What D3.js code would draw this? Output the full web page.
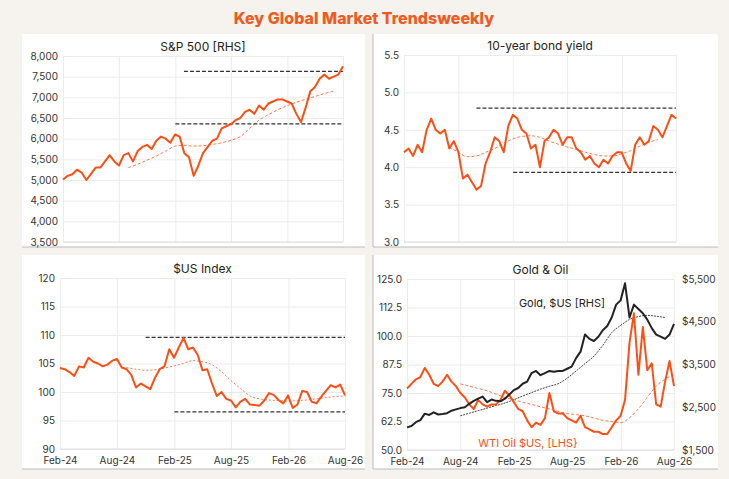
<!DOCTYPE html>
<html lang="en">
<head>
<meta charset="UTF-8">
<script src="https://d3js.org/d3.v7.min.js"></script>
<style>
  body { margin: 0; background: #f6f2ee; }
  text { font-family: Inter, "Open Sans", sans-serif; fill: #222; }
  .grid line { stroke: #ececec; }
  .tick text { font-size: 10px; fill: #333; }
</style>
</head>
<body>
<svg width="729" height="479"></svg>
<script>
// semi-monthly observations, Feb-24 .. Aug-26
var spx = [5010,5100,5140,5250,5180,5000,5150,5300,5300,5450,5600,5450,5350,5600,5650,5450,5700,5800,5850,5750,5950,6050,6000,5900,6100,6050,5650,5550,5100,5350,5650,5800,5950,6000,6250,6300,6350,6450,6500,6650,6700,6600,6800,6700,6850,6900,6950,6950,6900,6850,6600,6400,6750,7150,7250,7450,7550,7450,7500,7550,7750];
var spxTrend = [5300,5380,5480,5580,5700,5820,5840,5820,5830,5860,5900,5960,6050,6250,6450,6580,6700,6800,6880,6950,7020,7090,7150];   // monthly from Sep-24
var bond = [4.2,4.25,4.15,4.3,4.2,4.5,4.65,4.5,4.45,4.5,4.25,4.35,4.2,3.85,3.9,3.8,3.7,3.75,4.05,4.2,4.4,4.35,4.2,4.55,4.7,4.65,4.5,4.45,4.25,4.3,4.0,4.35,4.4,4.5,4.45,4.3,4.4,4.4,4.25,4.2,4.1,4.15,4.05,4.0,4.1,4.05,4.15,4.2,4.2,4.05,3.95,4.3,4.4,4.3,4.35,4.55,4.5,4.4,4.55,4.7,4.65];
var bondTrend = [4.27,4.2,4.14,4.15,4.2,4.25,4.32,4.38,4.41,4.42,4.4,4.35,4.31,4.27,4.24,4.2,4.17,4.15,4.15,4.18,4.22,4.28,4.33,4.37]; // monthly from Jul-24
var usd = [104.2,104,103.5,102.8,104.5,104.3,106,105.3,105,104.5,104.8,105.5,105.8,104.3,104,103,100.8,101.5,101,100.5,102.5,104,104.5,107.5,106,107.8,109.5,107.5,107.8,106.5,103.8,104,101.5,99.3,100,98.8,98.5,97.3,98.3,98.8,97.8,97.7,97.6,98.5,99.8,99.5,98.6,98,99.4,97.2,97.8,100.2,100,98.3,98,99.2,100.2,101.2,100.8,101.3,99.4];
var usdTrend = [104.3,104,103.8,103.9,104.2,104.6,105,105.5,105.3,104.8,103.6,102,100.6,99.3,98.8,98.6,98.5,98.4,98.5,98.6,98.8,99,99.2,99.3]; // monthly from Sep-24
var gold = [2030,2060,2150,2200,2350,2320,2380,2330,2340,2360,2420,2450,2480,2500,2580,2650,2700,2750,2620,2680,2650,2640,2700,2800,2900,2950,3050,3100,3300,3350,3250,3300,3350,3330,3350,3350,3400,3450,3650,3800,4200,4100,4050,4150,4300,4400,4600,4900,5000,5400,4600,4900,4800,4700,4550,4350,4200,4150,4100,4200,4450];
var goldTrend = [2300,2360,2420,2480,2540,2600,2680,2760,2840,2920,2990,3050,3180,3350,3520,3700,3950,4250,4420,4550,4620,4650,4630,4600]; // monthly from Aug-24
var oil = [77,79,81,82,86,83,79,78,80,83,80,78,75,73,70,68,72,70,69,70,70,72,76,74,71,68,67,63,60,62,61,64,75,67,66,66,64,63,62,65,60,59,58,58,57,57,60,63,65,72,97,110,83,104,85,88,70,69,80,89,78];
var oilTrend = [79,78,77,76,74.5,73,72,71,70,69,68,67,66,65.5,65,64,63,62.5,62,64,68,73,78,81,83]; // monthly from Aug-24
var xTicks = ["Feb-24","Aug-24","Feb-25","Aug-25","Feb-26","Aug-26"];

var svg = d3.select("svg");
var parse = d3.timeParse("%b-%y");
var t0 = parse("Feb-24"), t1 = parse("Aug-26");
function dates(n) { return d3.range(n).map(function(i){ return new Date(+t0 + i*(t1 - t0)/(n-1)); }); }
function monthly(start, n) { var s = parse(start); return d3.range(n).map(function(i){ return d3.timeMonth.offset(s, i); }); }

svg.append("text").attr("x", 364).attr("y", 24).attr("text-anchor", "middle")
  .style("font-size", "16px").style("font-weight", 800).style("fill", "#f05a1e")
  .text("Key Global Market Trendsweekly");

function panel(o) {
  svg.append("rect").attr("x", o.bx).attr("y", o.by).attr("width", o.bw).attr("height", o.bh).attr("fill", "#fff");
  if (o.leftBorder) svg.append("line").attr("x1", o.bx).attr("x2", o.bx).attr("y1", o.by).attr("y2", o.by + o.bh).attr("stroke", "#bbb");
  svg.append("line").attr("x1", o.bx).attr("x2", o.bx + o.bw).attr("y1", o.by + o.bh).attr("y2", o.by + o.bh).attr("stroke", "#bbb");
  var x = d3.scaleTime().domain([t0, t1]).range([o.x0, o.x1]);
  var y = d3.scaleLinear().domain(o.dom).range([o.y1, o.y0]);
  var g = svg.append("g");
  g.append("g").attr("class", "grid").attr("transform", "translate(0," + o.y1 + ")")
    .call(d3.axisBottom(x).tickValues(xTicks.map(parse)).tickSize(o.y0 - o.y1).tickFormat(""))
    .call(function(s){ s.select(".domain").remove(); });
  g.append("g").attr("class", "grid").attr("transform", "translate(" + o.x0 + ",0)")
    .call(d3.axisLeft(y).tickValues(o.ticks).tickSize(o.x0 - o.x1).tickFormat(""))
    .call(function(s){ s.select(".domain").remove(); });
  g.append("line").attr("x1", o.x0).attr("x2", o.x1).attr("y1", o.y1).attr("y2", o.y1).attr("stroke", "#ddd");
  g.append("g").attr("transform", "translate(" + o.x0 + ",0)")
    .call(d3.axisLeft(y).tickValues(o.ticks).tickSize(0).tickPadding(5).tickFormat(o.fmt))
    .call(function(s){ s.select(".domain").remove(); });
  if (o.xlabels) g.append("g").attr("transform", "translate(0," + o.y1 + ")")
    .call(d3.axisBottom(x).tickValues(xTicks.map(parse)).tickSize(0).tickPadding(8).tickFormat(d3.timeFormat("%b-%y")))
    .call(function(s){ s.select(".domain").remove(); });
  svg.append("text").attr("x", (o.x0 + o.x1) / 2).attr("y", o.y0 - 5).attr("text-anchor", "middle")
    .style("font-size", "12px").text(o.title);
  return {x: x, y: y, g: g};
}

function draw(p, y, vals, ds, color, w, dash, curve) {
  p.g.append("path").datum(vals).attr("fill", "none").attr("stroke", color).attr("stroke-width", w)
    .attr("stroke-dasharray", dash || null).attr("stroke-linejoin", "round")
    .attr("d", d3.line().x(function(d, i){ return p.x(ds[i]); }).y(function(d){ return y(d); }).curve(curve || d3.curveLinear));
}
function hline(p, start, v) {
  p.g.append("line").attr("x1", p.x(parse(start))).attr("x2", p.x(t1)).attr("y1", p.y(v)).attr("y2", p.y(v))
    .attr("stroke", "#333").attr("stroke-width", 1.3).attr("stroke-dasharray", "4,2");
}
var OR = "#ff4e14", sm = d3.curveMonotoneX;

// S&P 500
var p1 = panel({bx: 22, by: 34, bw: 343, bh: 213, x0: 63, x1: 343, y0: 56, y1: 242, dom: [3500, 8000],
  ticks: d3.range(3500, 8001, 500), fmt: d3.format(","), title: "S&P 500 [RHS]"});
draw(p1, p1.y, spxTrend, monthly("Sep-24", spxTrend.length), "#ff7a50", 1, "3,2", sm);
hline(p1, "Mar-25", 7630); hline(p1, "Feb-25", 6360);
draw(p1, p1.y, spx, dates(spx.length), OR, 2);

// 10-year bond yield
var p2 = panel({bx: 373, by: 34, bw: 345, bh: 213, leftBorder: true, x0: 404, x1: 676, y0: 55, y1: 242, dom: [3, 5.5],
  ticks: d3.range(3, 5.51, 0.5), fmt: d3.format(".1f"), title: "10-year bond yield"});
draw(p2, p2.y, bondTrend, monthly("Jul-24", bondTrend.length), "#ff7a50", 1, "3,2", sm);
hline(p2, "Oct-24", 4.79); hline(p2, "Feb-25", 3.93);
draw(p2, p2.y, bond, dates(bond.length), OR, 2);

// $US Index
var p3 = panel({bx: 22, by: 255, bw: 343, bh: 214, x0: 60, x1: 345, y0: 278, y1: 449, dom: [90, 120],
  ticks: d3.range(90, 121, 5), fmt: d3.format("d"), title: "$US Index", xlabels: true});
draw(p3, p3.y, usdTrend, monthly("Sep-24", usdTrend.length), "#ff7a50", 1, "2,2", sm);
hline(p3, "Nov-24", 109.6); hline(p3, "Feb-25", 96.5);
draw(p3, p3.y, usd, dates(usd.length), OR, 2);

// Gold & Oil
var p4 = panel({bx: 373, by: 255, bw: 345, bh: 214, leftBorder: true, x0: 407, x1: 674, y0: 279, y1: 450, dom: [50, 125],
  ticks: d3.range(50, 125.1, 12.5), fmt: d3.format(".1f"), title: "Gold & Oil", xlabels: true});
var yR = d3.scaleLinear().domain([1500, 5500]).range([450, 279]);
p4.g.append("g").attr("transform", "translate(674,0)")
  .call(d3.axisRight(yR).tickValues([1500, 2500, 3500, 4500, 5500]).tickSize(0).tickPadding(8).tickFormat(function(d){ return "$" + d3.format(",")(d); }))
  .call(function(s){ s.select(".domain").remove(); });
draw(p4, p4.y, oilTrend, monthly("Aug-24", oilTrend.length), "#ff7a50", 1, "3,2", sm);
draw(p4, yR, goldTrend, monthly("Aug-24", goldTrend.length), "#444", 1, "2,1", sm);
draw(p4, p4.y, oil, dates(oil.length), OR, 2);
draw(p4, yR, gold, dates(gold.length), "#222", 2);
svg.append("text").attr("x", 562).attr("y", 307).attr("text-anchor", "middle").style("font-size", "11px").text("Gold, $US [RHS]");
svg.append("text").attr("x", 528).attr("y", 447).attr("text-anchor", "middle").style("font-size", "11px").style("fill", OR).text("WTI Oil $US, [LHS}");
</script>
</body>
</html>
